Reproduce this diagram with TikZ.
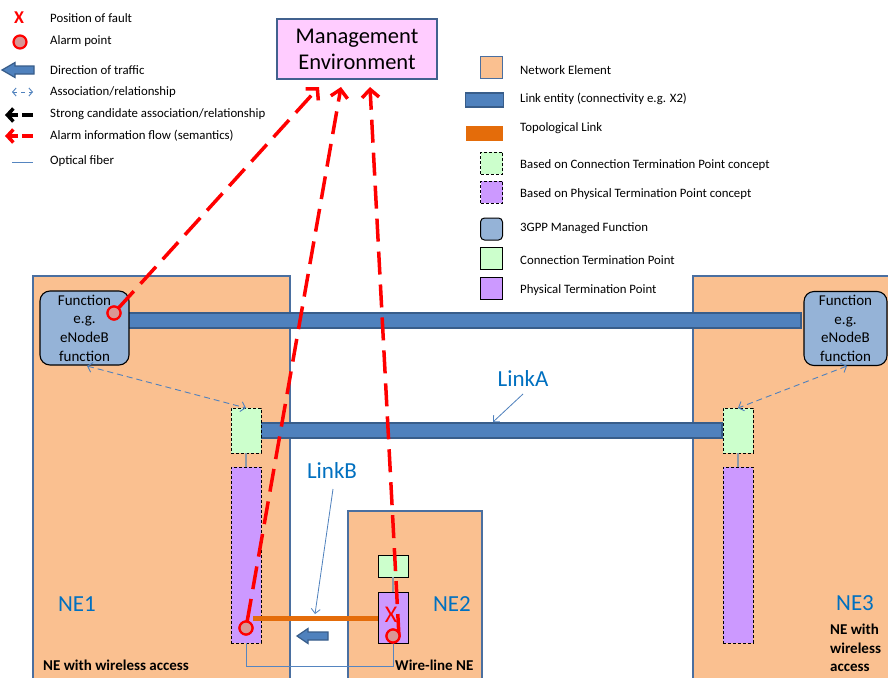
\documentclass[tikz,border=0pt]{standalone}
\usepackage{fontspec}
\setmainfont{Carlito}
\usetikzlibrary{arrows.meta}
\definecolor{nefill}{HTML}{FAC090}
\definecolor{nebord}{HTML}{4A6FA0}
\definecolor{linkfill}{HTML}{4F81BD}
\definecolor{linkbord}{HTML}{385D8A}
\definecolor{funcfill}{HTML}{95B3D7}
\definecolor{ctpfill}{HTML}{CCFFCC}
\definecolor{ptpfill}{HTML}{CC99FF}
\definecolor{mgmtfill}{HTML}{FFCCFF}
\definecolor{mgmtbord}{HTML}{41618E}
\definecolor{topo}{HTML}{E46C0A}
\definecolor{alarmfill}{HTML}{D99694}
\definecolor{alarmred}{HTML}{FF0000}
\definecolor{nelabel}{HTML}{0070C0}
\definecolor{fiber}{HTML}{5585C0}
\definecolor{conn}{HTML}{8C99A8}
\begin{document}
\begin{tikzpicture}[x=1pt,y=-1pt,
  box/.style={rectangle, inner sep=0pt, outer sep=0pt},
  nebox/.style={box, fill=nefill, draw=nebord, line width=2pt},
  linkbar/.style={box, fill=linkfill, draw=linkbord, line width=1.8pt},
  funcbox/.style={box, rounded corners=10pt, fill=funcfill, draw=black, line width=1.1pt, align=center, font=\fontsize{15}{18.6}\selectfont},
  ctpd/.style={box, fill=ctpfill, draw=black, line width=1pt, dash pattern=on 3pt off 2pt},
  ptpd/.style={box, fill=ptpfill, draw=black, line width=1pt, dash pattern=on 3pt off 2pt},
  ctps/.style={box, fill=ctpfill, draw=black, line width=1pt},
  ptps/.style={box, fill=ptpfill, draw=black, line width=1pt},
  alarm/.style={circle, inner sep=0pt, outer sep=0pt, minimum size=13pt, fill=alarmfill, draw=alarmred, line width=2.2pt},
  alarmflow/.style={draw=alarmred, line width=3.5pt, dash pattern=on 23pt off 10pt, -{Straight Barb[length=8pt,width=17pt]}},
  assoc/.style={draw=linkfill, line width=0.9pt, dash pattern=on 6pt off 4pt, {Straight Barb[length=4.5pt,width=10pt]}-{Straight Barb[length=4.5pt,width=10pt]}},
  pointer/.style={draw=linkfill, line width=0.8pt, -{Straight Barb[length=4.5pt,width=9pt]}},
  connline/.style={draw=conn, line width=1.2pt},
  fiberline/.style={draw=fiber, line width=0.9pt},
  topolink/.style={draw=topo, line width=5pt},
  traffic/.style={fill=linkfill, draw=linkbord, line width=1.2pt},
  lbl/.style={anchor=west, inner sep=0pt, font=\fontsize{12.8}{15}\selectfont},
  nelbl/.style={inner sep=0pt, text=nelabel, font=\fontsize{23}{27}\selectfont},
  boldlbl/.style={inner sep=0pt, font=\bfseries\fontsize{15}{18.5}\selectfont}
]
\useasboundingbox (0,0) rectangle (888,677);
\clip (0,0) rectangle (888,677);
\fill[white] (0,0) rectangle (888,677);

% ---------- Network elements
\node[nebox, minimum width=257pt, minimum height=414pt, anchor=north west] (ne1) at (33,276) {};
\node[nebox, minimum width=220pt, minimum height=414pt, anchor=north west] (ne3) at (693,276) {};
\node[nebox, minimum width=134pt, minimum height=180pt, anchor=north west] (ne2) at (348,511) {};

% ---------- link bars
\node[linkbar, minimum width=673pt, minimum height=15pt] (link1) at (464.5,320.5) {};
\node[linkbar, minimum width=462pt, minimum height=15pt] (linkA) at (491,430.5) {};

% ---------- functions
\node[funcbox, minimum width=89pt, minimum height=74pt] (f1) at (84.5,328) {Function\\e.g.\\eNodeB\\function};
\node[funcbox, minimum width=83pt, minimum height=74pt] (f3) at (845.5,328.5) {Function\\e.g.\\eNodeB\\function};

% ---------- termination points
\node[ctpd, minimum width=30pt, minimum height=45pt] (c1) at (246,430.5) {};
\node[ctpd, minimum width=30pt, minimum height=45pt] (c3) at (738,430.5) {};
\node[ptpd, minimum width=30pt, minimum height=176pt] (p1) at (246,555) {};
\node[ptpd, minimum width=30pt, minimum height=176pt] (p3) at (738,555) {};
\node[ctps, minimum width=30pt, minimum height=22pt] (c2) at (393,566) {};
\node[ptps, minimum width=30pt, minimum height=51pt] (p2) at (393,617.5) {};

\draw[connline] (c1.south) -- (p1.north);
\draw[connline] (c3.south) -- (p3.north);
\draw[connline] (c2.south) -- (p2.north);

% ---------- topological link, fiber, traffic
\coordinate (tl1) at (253,618);
\draw[topolink] (tl1) -- (tl1 -| p2.west);
\draw[fiberline] (p1.south) -- ++(0,23) -| (p2.south);
\draw[traffic] (297,636) -- ++(11,-7.5) -- ++(0,3.5) -- ++(20,0) -- ++(0,8) -- ++(-20,0) -- ++(0,3.5) -- cycle;

% ---------- associations
\draw[assoc] (87,366) -- (c1.north);
\draw[assoc] (847,366) -- (c3.north);

% ---------- labels
\node[nelbl] (lA) at (523,379) {LinkA};
\node[nelbl] (lB) at (332,471) {LinkB};
\coordinate (lAt) at (493,422);
\coordinate (lBt) at (315,614);
\draw[pointer] (523,394) -- (lAt);
\draw[pointer] (333,489) -- (lBt);

\node[nelbl] (n1) at (77,604) {NE1};
\node[nelbl] (n2) at (452,604) {NE2};
\node[nelbl] (n3) at (855,603) {NE3};
\node[boldlbl, anchor=west] (b1) at (43,665) {NE with wireless access};
\node[boldlbl, anchor=west] (b2) at (395,665) {Wire-line NE};
\node[boldlbl, anchor=north west, align=left] (b3) at (830,624) {NE with\\wireless\\access};

% ---------- management
\node[box, minimum width=160pt, minimum height=60pt, fill=mgmtfill, draw=mgmtbord, line width=1.8pt, align=center, font=\fontsize{22.5}{26}\selectfont] (mg) at (357,49) {Management\\Environment};

% ---------- alarms
\node[alarm] (a1) at (114,313) {};
\node[alarm] (a2) at (246,628) {};
\node[alarm] (a3) at (393,636) {};
\node[text=alarmred, inner sep=0pt, font=\fontsize{24}{24}\selectfont] (x2) at (391,615) {X};
\coordinate (s3) at (399,637);
\coordinate (t1) at (319,87);
\coordinate (t2) at (341,87);
\coordinate (t3) at (370,87);
\draw[alarmflow] (a1) -- (t1);
\draw[alarmflow] (a2) -- (t2);
\draw[alarmflow] (s3) -- (t3);
\node[alarm] at (a1) {};
\node[alarm] at (a2) {};
\node[alarm] at (a3) {};

% ---------- legend left
\node[text=alarmred, inner sep=0pt, font=\bfseries\fontsize{18}{18}\selectfont] (lgx) at (19,18) {X};
\node[alarm] (lga) at (20,42) {};
\draw[traffic] (2,70) -- ++(13,-7.5) -- ++(0,3.5) -- ++(19,0) -- ++(0,8) -- ++(-19,0) -- ++(0,3.5) -- cycle;
\coordinate (la1) at (12,92); \coordinate (la2) at (33,92);
\draw[draw=linkfill, line width=0.9pt, dash pattern=on 4pt off 4pt, {Straight Barb[length=3.5pt,width=8pt]}-{Straight Barb[length=3.5pt,width=8pt]}] (la1) -- (la2);
\coordinate (ls1) at (33,115); \coordinate (ls2) at (5,115);
\draw[draw=black, line width=3.5pt, dash pattern=on 11pt off 4pt, -{Straight Barb[length=6pt,width=13pt]}] (ls1) -- (ls2);
\coordinate (lr1) at (33,136); \coordinate (lr2) at (5,136);
\draw[draw=alarmred, line width=3.5pt, dash pattern=on 11pt off 4pt, -{Straight Barb[length=6pt,width=13pt]}] (lr1) -- (lr2);
\coordinate (lf1) at (12,162); \coordinate (lf2) at (33,162);
\draw[fiberline] (lf1) -- (lf2);

\node[lbl] (t_pf) at (50,18) {Position of fault};
\node[lbl] (t_ap) at (50,41) {Alarm point};
\node[lbl] (t_dt) at (50,70) {Direction of traffic};
\node[lbl] (t_as) at (50,92) {Association/relationship};
\node[lbl] (t_sc) at (50,114) {Strong candidate association/relationship};
\node[lbl] (t_af) at (50,136) {Alarm information flow (semantics)};
\node[lbl] (t_of) at (50,161) {Optical fiber};

% ---------- legend right
\node[box, fill=nefill, draw=nebord, line width=1.8pt, minimum width=22pt, minimum height=22pt] (r1) at (491.5,67.5) {};
\node[linkbar, minimum width=38pt, minimum height=14pt] (r2) at (484.5,100) {};
\node[box, fill=topo, minimum width=37pt, minimum height=15pt] (r3) at (484.5,133.5) {};
\node[ctpd, minimum width=22pt, minimum height=22pt] (r4) at (491.5,163) {};
\node[ptpd, minimum width=22pt, minimum height=22pt] (r5) at (491.5,192) {};
\node[box, rounded corners=4pt, fill=funcfill, draw=black, line width=1pt, minimum width=22pt, minimum height=22pt] (r6) at (491.5,229) {};
\node[ctps, minimum width=22pt, minimum height=22pt] (r7) at (491.5,258) {};
\node[ptps, minimum width=22pt, minimum height=22pt] (r8) at (491.5,288) {};

\node[lbl] (u1) at (520,70) {Network Element};
\node[lbl] (u2) at (520,99) {Link entity (connectivity e.g. X2)};
\node[lbl] (u3) at (520,128) {Topological Link};
\node[lbl] (u4) at (520,165) {Based on Connection Termination Point concept};
\node[lbl] (u5) at (520,194) {Based on Physical Termination Point concept};
\node[lbl] (u6) at (520,228) {3GPP Managed Function};
\node[lbl] (u7) at (520,260) {Connection Termination Point};
\node[lbl] (u8) at (520,290) {Physical Termination Point};
\end{tikzpicture}
\end{document}
